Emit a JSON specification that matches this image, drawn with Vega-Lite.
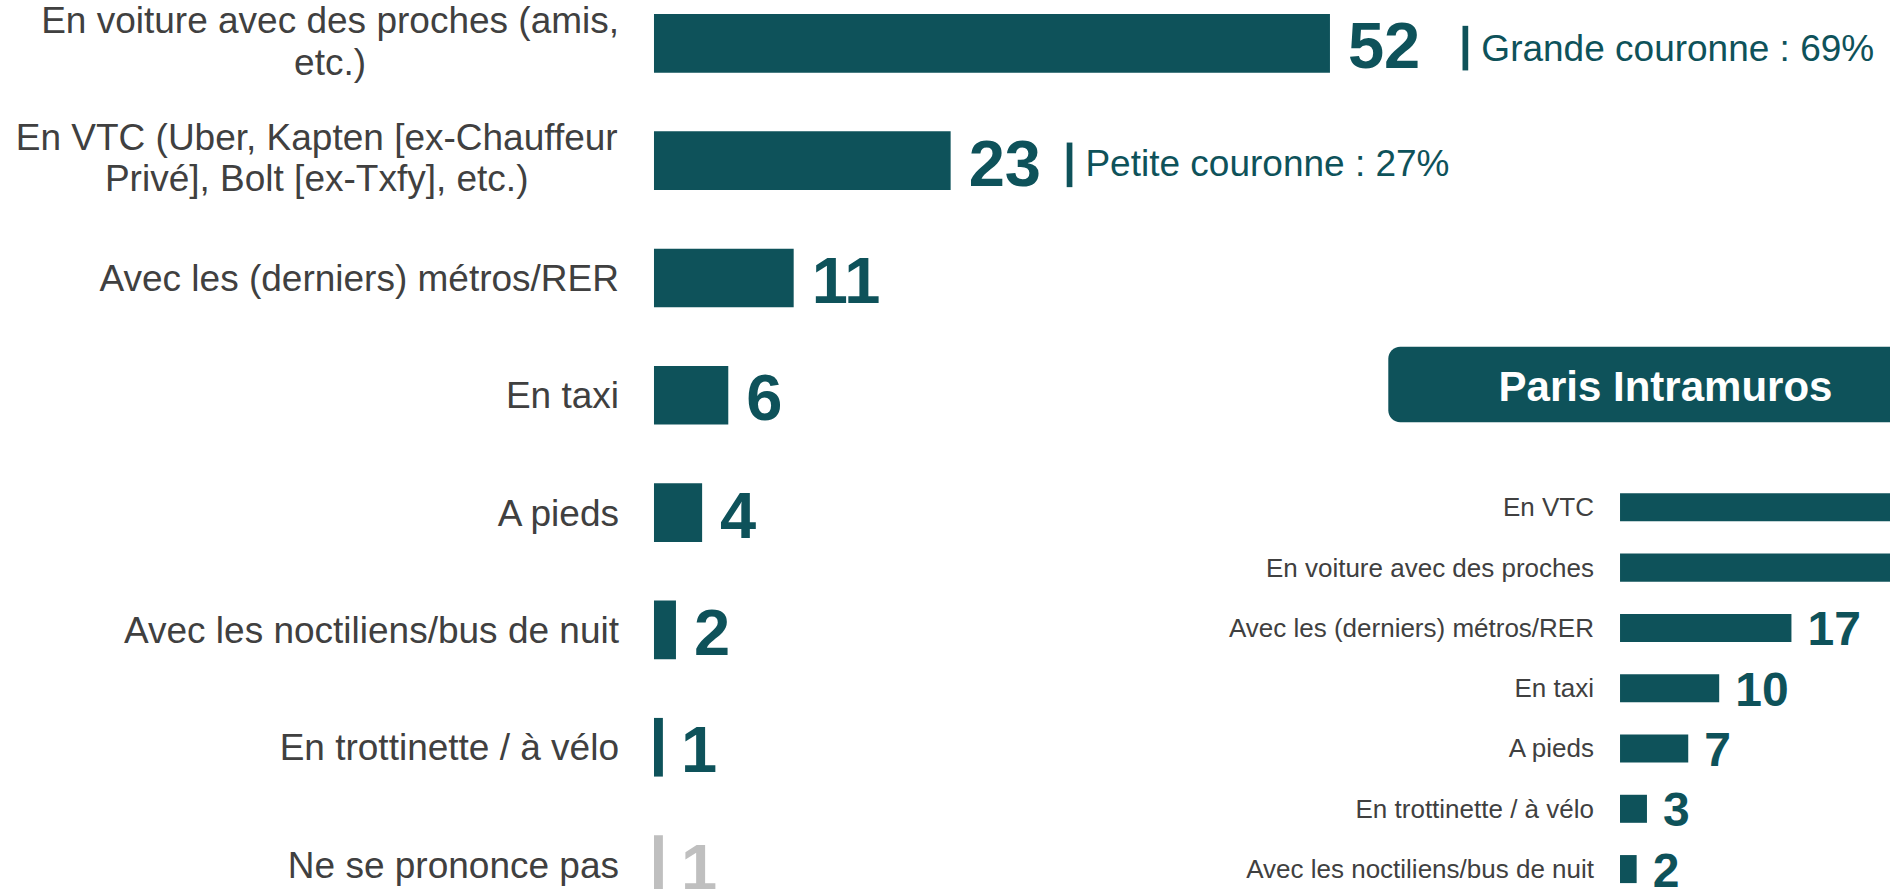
{
  "$schema": "https://vega.github.io/schema/vega-lite/v6.json",
  "width": 1890,
  "height": 889,
  "autosize": {"type": "none"},
  "padding": 0,
  "background": "#ffffff",
  "config": {"view": {"stroke": null}, "text": {"font": "Liberation Sans"}},
  "datasets": {
    "ensemble": [
      {"item": "En voiture avec des proches (amis,\netc.)", "pct": 52, "note": "Grande couronne : 69%"},
      {"item": "En VTC (Uber, Kapten [ex-Chauffeur\nPrivé], Bolt [ex-Txfy], etc.)", "pct": 23, "note": "Petite couronne : 27%"},
      {"item": "Avec les (derniers) métros/RER", "pct": 11},
      {"item": "En taxi", "pct": 6},
      {"item": "A pieds", "pct": 4},
      {"item": "Avec les noctiliens/bus de nuit", "pct": 2},
      {"item": "En trottinette / à vélo", "pct": 1},
      {"item": "Ne se prononce pas", "pct": 1}
    ],
    "paris": [
      {"item": "En VTC", "pct": 32},
      {"item": "En voiture avec des proches", "pct": 28},
      {"item": "Avec les (derniers) métros/RER", "pct": 17},
      {"item": "En taxi", "pct": 10},
      {"item": "A pieds", "pct": 7},
      {"item": "En trottinette / à vélo", "pct": 3},
      {"item": "Avec les noctiliens/bus de nuit", "pct": 2}
    ],
    "zone": [{"zone": "Paris Intramuros"}]
  },
  "layer": [
    {
      "data": {"name": "ensemble"},
      "encoding": {
        "y": {
          "field": "item", "type": "nominal", "sort": null, "axis": null,
          "scale": {
            "domain": [
              "En voiture avec des proches (amis,\netc.)",
              "En VTC (Uber, Kapten [ex-Chauffeur\nPrivé], Bolt [ex-Txfy], etc.)",
              "Avec les (derniers) métros/RER",
              "En taxi",
              "A pieds",
              "Avec les noctiliens/bus de nuit",
              "En trottinette / à vélo",
              "Ne se prononce pas"
            ],
            "range": [14, 893.9], "paddingInner": 0.5, "paddingOuter": 0
          }
        }
      },
      "layer": [
        {
          "mark": {"type": "bar"},
          "encoding": {
            "x": {"field": "pct", "type": "quantitative", "axis": null,
                  "scale": {"domain": [0, 100], "range": [649.8, 1957.8], "nice": false, "zero": false}},
            "x2": {"datum": 0.32},
            "color": {"condition": {"test": "datum.item === 'Ne se prononce pas'", "value": "#BFBFBF"}, "value": "#0E525A"}
          }
        },
        {
          "mark": {"type": "text", "align": "left", "baseline": "middle", "dx": 18, "dy": 5, "fontSize": 65, "fontWeight": "bold", "font": "Liberation Sans"},
          "encoding": {
            "x": {"field": "pct", "type": "quantitative"},
            "text": {"field": "pct", "type": "quantitative"},
            "color": {"condition": {"test": "datum.item === 'Ne se prononce pas'", "value": "#BFBFBF"}, "value": "#0E525A"}
          }
        },
        {
          "transform": [{"filter": "indexof(datum.item, '\\n') < 0"}],
          "mark": {"type": "text", "align": "right", "baseline": "middle", "dx": -30.8, "dy": 2, "fontSize": 37, "color": "#404040", "font": "Liberation Sans"},
          "encoding": {"x": {"datum": 0}, "text": {"field": "item"}}
        },
        {
          "transform": [{"filter": "datum.pct === 52"}],
          "mark": {"type": "text", "align": "center", "baseline": "middle", "dx": -319.7, "dy": -21, "fontSize": 37, "lineBreak": "\n", "lineHeight": 41.7, "color": "#404040", "font": "Liberation Sans"},
          "encoding": {"x": {"datum": 0}, "text": {"field": "item"}}
        },
        {
          "transform": [{"filter": "datum.pct === 23"}],
          "mark": {"type": "text", "align": "center", "baseline": "middle", "dx": -333.1, "dy": -22, "fontSize": 37, "lineBreak": "\n", "lineHeight": 41.7, "color": "#404040", "font": "Liberation Sans"},
          "encoding": {"x": {"datum": 0}, "text": {"field": "item"}}
        },
        {
          "transform": [{"filter": "datum.pct === 52"}],
          "mark": {"type": "tick", "thickness": 5.7, "size": 44.6, "xOffset": 135.4, "yOffset": 4.8, "color": "#0E525A", "opacity": 1},
          "encoding": {"x": {"field": "pct", "type": "quantitative"}}
        },
        {
          "transform": [{"filter": "datum.pct === 52"}],
          "mark": {"type": "text", "align": "left", "baseline": "middle", "dx": 151.4, "dy": 7, "fontSize": 37, "color": "#0E525A", "font": "Liberation Sans"},
          "encoding": {"x": {"field": "pct", "type": "quantitative"}, "text": {"field": "note"}}
        },
        {
          "transform": [{"filter": "datum.pct === 23"}],
          "mark": {"type": "tick", "thickness": 5.7, "size": 44.6, "xOffset": 118.9, "yOffset": 4.2, "color": "#0E525A", "opacity": 1},
          "encoding": {"x": {"field": "pct", "type": "quantitative"}}
        },
        {
          "transform": [{"filter": "datum.pct === 23"}],
          "mark": {"type": "text", "align": "left", "baseline": "middle", "dx": 134.8, "dy": 4, "fontSize": 37, "color": "#0E525A", "font": "Liberation Sans"},
          "encoding": {"x": {"field": "pct", "type": "quantitative"}, "text": {"field": "note"}}
        }
      ]
    },
    {
      "data": {"name": "paris"},
      "encoding": {
        "y": {
          "field": "item", "type": "nominal", "sort": null, "axis": null,
          "scale": {
            "domain": [
              "En VTC",
              "En voiture avec des proches",
              "Avec les (derniers) métros/RER",
              "En taxi",
              "A pieds",
              "En trottinette / à vélo",
              "Avec les noctiliens/bus de nuit"
            ],
            "range": [493.3, 883.1], "paddingInner": 0.535, "paddingOuter": 0
          }
        }
      },
      "layer": [
        {
          "mark": {"type": "bar", "color": "#0E525A"},
          "encoding": {
            "x": {"field": "pct", "type": "quantitative", "axis": null,
                  "scale": {"domain": [0, 100], "range": [1616, 2648], "nice": false, "zero": false}},
            "x2": {"datum": 0.39}
          }
        },
        {
          "mark": {"type": "text", "align": "left", "baseline": "middle", "dx": 16, "dy": 3.5, "fontSize": 48, "fontWeight": "bold", "color": "#0E525A", "font": "Liberation Sans"},
          "encoding": {
            "x": {"field": "pct", "type": "quantitative"},
            "text": {"field": "pct", "type": "quantitative"}
          }
        },
        {
          "mark": {"type": "text", "align": "right", "baseline": "middle", "dx": -22, "dy": 1, "fontSize": 26, "color": "#404040", "font": "Liberation Sans"},
          "encoding": {"x": {"datum": 0}, "text": {"field": "item"}}
        }
      ]
    },
    {
      "data": {"name": "zone"},
      "encoding": {
        "x": {"field": "zone", "type": "nominal", "axis": null,
              "scale": {"range": [1388.3, 1942.7], "paddingInner": 0, "paddingOuter": 0}},
        "y": {"field": "zone", "type": "nominal", "axis": null,
              "scale": {"range": [346.7, 422.3], "paddingInner": 0, "paddingOuter": 0}}
      },
      "layer": [
        {"mark": {"type": "rect", "color": "#0E525A", "cornerRadius": 12}},
        {
          "mark": {"type": "text", "align": "center", "baseline": "middle", "dy": 3.8, "fontSize": 42, "fontWeight": "bold", "color": "#ffffff", "font": "Liberation Sans"},
          "encoding": {"text": {"field": "zone"}}
        }
      ]
    }
  ],
  "resolve": {"scale": {"x": "independent", "y": "independent"}}
}
